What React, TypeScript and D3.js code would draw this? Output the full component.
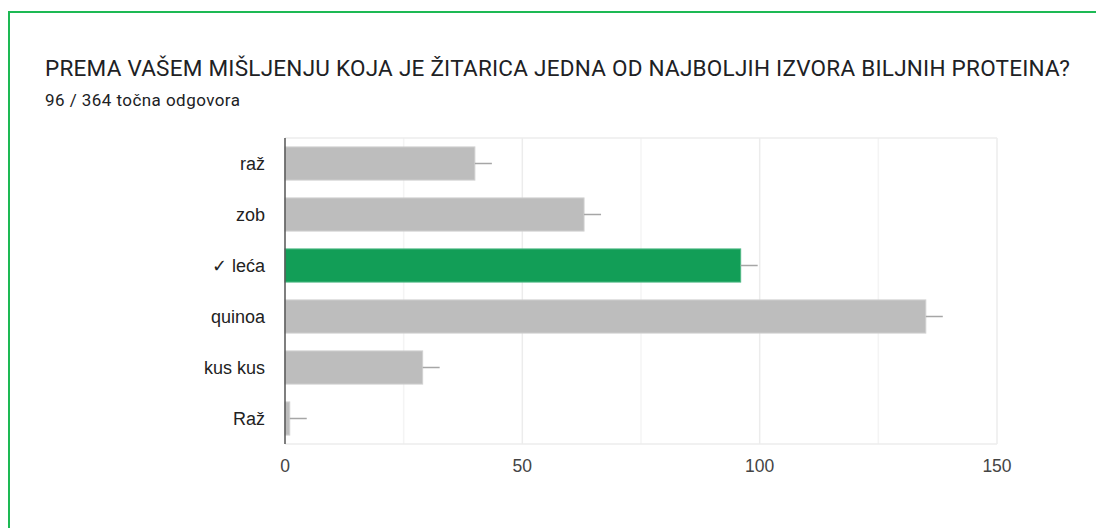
import React from "react";
import * as d3 from "d3";

const title = "PREMA VAŠEM MIŠLJENJU KOJA JE ŽITARICA JEDNA OD NAJBOLJIH IZVORA BILJNIH PROTEINA?";
const subtitle = "96 / 364 točna odgovora";
const categories = ["raž", "zob", "✓ leća", "quinoa", "kus kus", "Raž"];
const values = [40, 63, 96, 135, 29, 1];
const correct = [false, false, true, false, false, false];
const xTicks = [0, 50, 100, 150];
const gridTicks = [25, 50, 75, 100, 125, 150];

const W = 1096;
const H = 528;
const left = 285;
const right = 997;
const top = 138;
const bottom = 444;

export default function App() {
  const x = d3.scaleLinear().domain([0, 150]).range([left, right]);
  const y = d3.scaleBand<string>().domain(categories).range([top, bottom]).paddingInner(0.35).paddingOuter(0.175);
  const font = "Roboto, 'Noto Sans', Arial, sans-serif";
  const chartFont = "Arial, 'Liberation Sans', sans-serif";
  return (
    <svg width={W} height={H} style={{ position: "absolute", left: 0, top: 0, background: "#fff" }}>
      <line x1={9} y1={12} x2={W} y2={12} stroke="#1db954" strokeWidth={2} />
      <line x1={9} y1={11} x2={9} y2={H} stroke="#1db954" strokeWidth={2} />
      <text x={45} y={76} fontFamily={font} fontSize={22.5} fill="#202124" textLength={1025} lengthAdjust="spacing">{title}</text>
      <text x={45} y={106} fontFamily={font} fontSize={17} fill="#202124" textLength={195} lengthAdjust="spacing">{subtitle}</text>
      {gridTicks.map((t) => (
        <line key={t} x1={x(t)} x2={x(t)} y1={top} y2={bottom} stroke={t % 50 === 0 ? "#ececec" : "#f4f4f4"} strokeWidth={1.5} />
      ))}
      <line x1={left} x2={right} y1={top} y2={top} stroke="#ececec" strokeWidth={1.5} />
      <line x1={left} x2={right} y1={bottom} y2={bottom} stroke="#ececec" strokeWidth={1.5} />
      {categories.map((c, i) => {
        const yy = y(c)!;
        const bh = y.bandwidth();
        const xe = x(values[i]);
        return (
          <g key={c}>
            <rect x={x(0)} y={yy} width={xe - x(0)} height={bh} fill={correct[i] ? "#129e57" : "#bdbdbd"} stroke={correct[i] ? "#4fb884" : "#d0d0d0"} strokeWidth={1} />
            <line x1={xe} x2={xe + 17} y1={yy + bh / 2} y2={yy + bh / 2} stroke="#a6a6a6" strokeWidth={1.5} />
            <text x={265} y={yy + bh / 2} dy="0.35em" textAnchor="end" fontFamily={chartFont} fontSize={18} fill="#222">{c}</text>
          </g>
        );
      })}
      <line x1={left} x2={left} y1={top} y2={bottom} stroke="#555" strokeWidth={1.5} />
      {xTicks.map((t) => (
        <text key={t} x={x(t)} y={472} textAnchor="middle" fontFamily={chartFont} fontSize={17.5} fill="#444">{t}</text>
      ))}
    </svg>
  );
}
